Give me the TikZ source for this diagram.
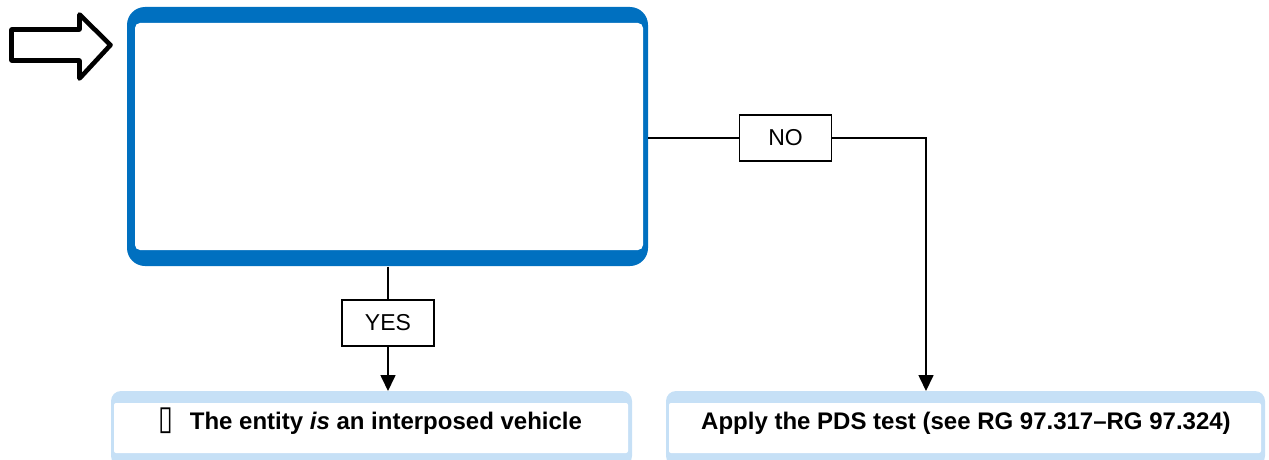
\documentclass[tikz,border=0pt]{standalone}
\usepackage{fontspec}
\setmainfont{Liberation Sans}
\newfontfamily\dejavu{DejaVu Sans}
\usetikzlibrary{arrows.meta}
\definecolor{mainblue}{RGB}{0,112,192}
\definecolor{lightblue}{RGB}{198,224,246}
\tikzset{
  holder/.style={inner sep=0pt, outer sep=0pt},
  lbl/.style={draw=black, line width=1.4pt, fill=white, inner sep=0pt,
    minimum width=92pt, minimum height=46pt, font=\fontsize{23}{27}\selectfont},
  conn/.style={line width=1.7pt, draw=black},
  tip/.style={-{Triangle[width=15pt,length=16pt]}},
  boldtxt/.style={anchor=base, inner sep=0pt, font=\bfseries\fontsize{24}{28}\selectfont},
  bigarrow/.style={draw=black, line width=4.6pt, line join=round, fill=white}
}
\begin{document}
\begin{tikzpicture}[x=1pt,y=-1pt]
\useasboundingbox (0,0) rectangle (1269,460);
\clip (0,0) rectangle (1269,460);
% entry arrow
\draw[bigarrow] (11.5,29.5) -- (79.5,29.5) -- (79.5,14.5) -- (110.5,45) -- (79.5,78.5) -- (79.5,60.5) -- (11.5,60.5) -- cycle;
% main box
\fill[mainblue, rounded corners=18pt] (127,7) rectangle (648,266);
\fill[white, rounded corners=5pt] (135,23) rectangle (643,250);
\node[holder, minimum width=521pt, minimum height=259pt] (main) at (387.5,137) {};
% bottom boxes
\fill[lightblue, rounded corners=10pt] (111,391) rectangle (632,466);
\fill[white, rounded corners=2pt] (114,403) rectangle (628,453);
\node[holder, minimum width=521pt, minimum height=69pt] (yesbox) at (371.5,425.5) {};
\fill[lightblue, rounded corners=10pt] (666,391) rectangle (1265,466);
\fill[white, rounded corners=2pt] (669,403) rectangle (1261,453);
\node[holder, minimum width=599pt, minimum height=69pt] (nobox) at (965.5,425.5) {};
% texts in bottom boxes
\node[boldtxt] (ytxt) at (370,429) {\scalebox{1}[1.25]{\dejavu\mdseries\fontsize{27}{30}\selectfont ▯}\hspace{17pt}The entity \textit{is} an interposed vehicle};
\node[boldtxt] (ntxt) at (966,429) {Apply the PDS test (see RG 97.317–RG 97.324)};
% labels
\node[lbl] (yes) at (388,323) {YES};
\node[lbl] (no) at (785.5,138) {NO};
% connectors
\coordinate (noend) at (926,391);
\draw[conn] (main.south -| yes) -- (yes.north);
\draw[conn, tip] (yes.south) -- (yes |- yesbox.north);
\draw[conn] (main.east |- no) -- (no.west);
\draw[conn, tip] (no.east) -| (noend);
\end{tikzpicture}
\end{document}
